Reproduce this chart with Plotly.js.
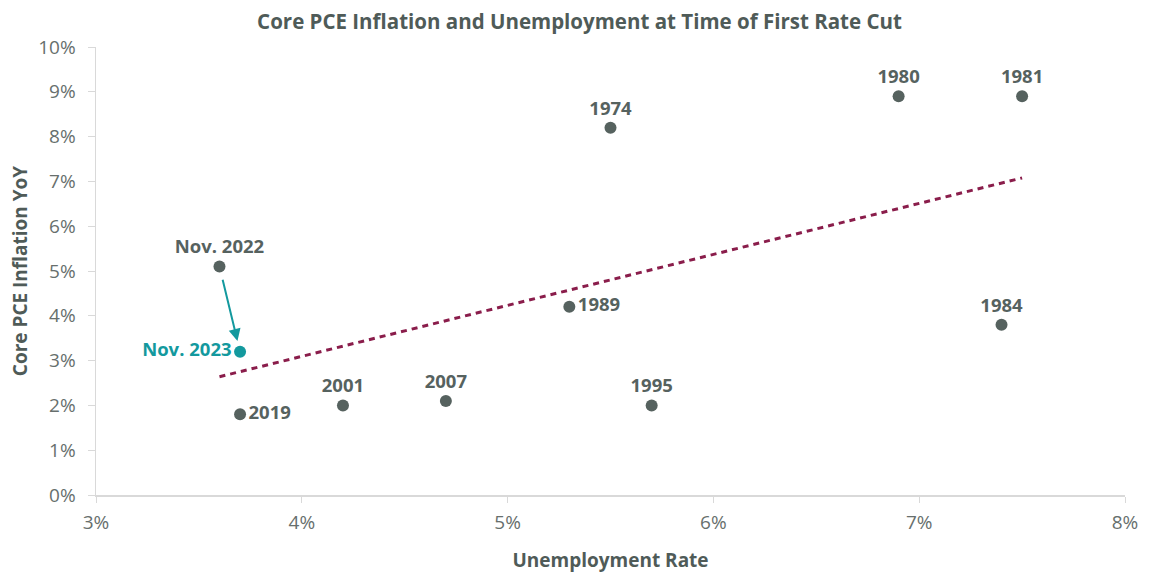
<!DOCTYPE html>
<html>
<head>
<meta charset="utf-8">
<script src="https://cdn.plot.ly/plotly-3.0.1.min.js"></script>
<style>html,body{margin:0;padding:0;background:#fff}#chart{width:1152px;height:577px}</style>
</head>
<body>
<div id="chart"></div>
<script>
// Historical first-rate-cut episodes
const histLabels = ["Nov. 2022", "2019", "2001", "2007", "1989", "1974", "1995", "1980", "1981", "1984"];
const histUnemp  = [3.6, 3.7, 4.2, 4.7, 5.3, 5.5, 5.7, 6.9, 7.5, 7.4];
const histPCE    = [5.1, 1.8, 2.0, 2.1, 4.2, 8.2, 2.0, 8.9, 8.9, 3.8];
const histPos    = ["top center", "middle right", "top center", "top center", "middle right", "top center", "top center", "top center", "top center", "top center"];
// Current point
const curLabel = ["Nov. 2023"];
const curUnemp = [3.7];
const curPCE   = [3.2];

const grey = "#56625f";
const teal = "#13999e";
const maroon = "#8a1d4b";
const FONT = "Open Sans, Noto Sans, sans-serif";

// Linear trendline (least squares) over all points
const allX = histUnemp.concat(curUnemp);
const allY = histPCE.concat(curPCE);
const n = allX.length;
const mx = allX.reduce((a,b)=>a+b,0)/n;
const my = allY.reduce((a,b)=>a+b,0)/n;
let sxy=0, sxx=0;
for (let i=0;i<n;i++){ sxy += (allX[i]-mx)*(allY[i]-my); sxx += (allX[i]-mx)**2; }
const slope = sxy/sxx, icpt = my - slope*mx;
const tx = [Math.min(...allX), Math.max(...allX)];
const ty = tx.map(v => icpt + slope*v);

const traces = [
  {x: tx, y: ty, mode: "lines", line: {color: maroon, width: 3, dash: "6px,5px"}, hoverinfo: "skip", showlegend: false},
  {x: histUnemp, y: histPCE, text: histLabels, mode: "markers+text", textposition: histPos,
   marker: {color: grey, size: 12}, textfont: {family: FONT, size: 18.5, color: grey, weight: 700}, showlegend: false},
  {x: curUnemp, y: curPCE, text: curLabel, mode: "markers+text", textposition: "middle left",
   marker: {color: teal, size: 12}, textfont: {family: FONT, size: 18.5, color: teal, weight: 700}, showlegend: false}
];

const tickFont = {family: FONT, size: 19, color: "#676f6d"};
const layout = {
  width: 1152, height: 577,
  margin: {l: 96, r: 27, t: 47, b: 82},
  paper_bgcolor: "#fff", plot_bgcolor: "#fff",
  font: {family: FONT},
  title: {text: "<b>Core PCE Inflation and Unemployment at Time of First Rate Cut</b>", x: 0.503, xref: "container", y: 0.962, yanchor: "middle",
          font: {family: FONT, size: 20.5, color: "#4f5b58"}},
  xaxis: {range: [3, 8], dtick: 1, ticksuffix: "%", showgrid: false, zeroline: false,
          showline: true, linecolor: "#d9d9d9", linewidth: 1.5, ticks: "outside", ticklen: 6, tickcolor: "#d9d9d9",
          tickfont: tickFont, ticklabelstandoff: 4,
          title: {text: "<b>Unemployment Rate</b>", font: {family: FONT, size: 19, color: "#4f5b58"}, standoff: 19}},
  yaxis: {range: [0, 10], dtick: 1, ticksuffix: "%", showgrid: false, zeroline: false,
          showline: true, linecolor: "#d9d9d9", linewidth: 1.5, ticks: "outside", ticklen: 7, tickcolor: "#d9d9d9",
          tickfont: tickFont, ticklabelstandoff: 8,
          title: {text: "<b>Core PCE Inflation YoY</b>", font: {family: FONT, size: 19, color: "#4f5b58"}, standoff: 5}},
  annotations: [{
    x: curUnemp[0], y: curPCE[0], ax: histUnemp[0], ay: histPCE[0],
    xref: "x", yref: "y", axref: "x", ayref: "y",
    showarrow: true, arrowhead: 2, arrowsize: 1.2, arrowwidth: 2, arrowcolor: teal,
    standoff: 11, startstandoff: 12, text: ""
  }]
};

Plotly.newPlot("chart", traces, layout, {displayModeBar: false, staticPlot: true});
</script>
</body>
</html>
